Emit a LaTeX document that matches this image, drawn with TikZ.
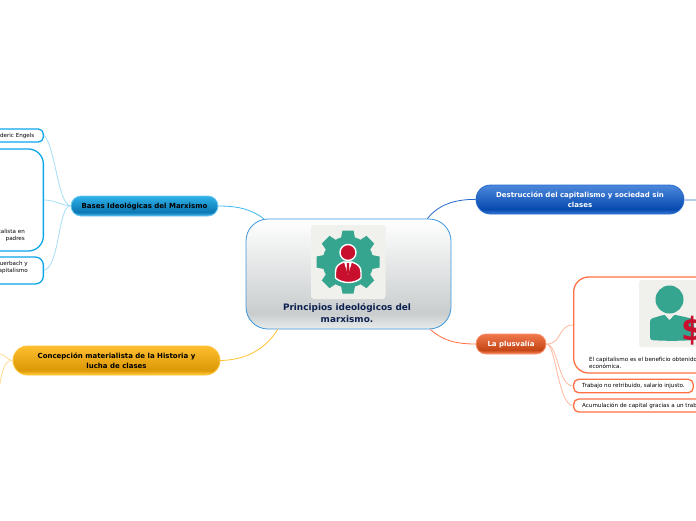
\documentclass[tikz,border=0pt]{standalone}
\usepackage{fontspec}
\setmainfont{DejaVu Sans}
\usepackage{tikz}
\usetikzlibrary{
	calc,											% connector ends on the root
	shapes.misc,									% pill shapes
}

\definecolor{iconteal}{HTML}{36A58F}
\definecolor{iconred}{HTML}{C8102E}
\definecolor{icontile}{HTML}{F0F0EC}
\definecolor{rootline}{HTML}{3C96DC}
\definecolor{rootnavy}{HTML}{0D2150}
\definecolor{rootlow}{HTML}{EAECEC}
\definecolor{rootdark}{HTML}{C9CDCE}
\definecolor{basesline}{HTML}{0EA5E9}
\definecolor{baseslink}{HTML}{A6DDF7}
\definecolor{basestop}{HTML}{2FB2E8}
\definecolor{basesdark}{HTML}{0B78B4}
\definecolor{baseslow}{HTML}{37A8DE}
\definecolor{destrline}{HTML}{2468CC}
\definecolor{destrtop}{HTML}{4C88DC}
\definecolor{destrdark}{HTML}{064AAE}
\definecolor{destrlow}{HTML}{2E6FCC}
\definecolor{plusline}{HTML}{FF7043}
\definecolor{pluslink}{HTML}{FFB8A0}
\definecolor{plustop}{HTML}{F0784C}
\definecolor{plusdark}{HTML}{C44616}
\definecolor{pluslow}{HTML}{F08058}
\definecolor{concline}{HTML}{FFC233}
\definecolor{conclink}{HTML}{FFDC90}
\definecolor{conctop}{HTML}{FDBE2E}
\definecolor{concdark}{HTML}{DC9806}
\definecolor{conclow}{HTML}{FBC232}

\pgfdeclareverticalshading{rootshade}{100bp}{color(0bp)=(rootlow); color(25bp)=(rootlow); color(32bp)=(rootdark); color(75bp)=(white); color(100bp)=(white)}
\pgfdeclareverticalshading{basesshade}{100bp}{color(0bp)=(baseslow); color(27bp)=(baseslow); color(35bp)=(basesdark); color(75bp)=(basestop); color(100bp)=(basestop)}
\pgfdeclareverticalshading{destrshade}{100bp}{color(0bp)=(destrlow); color(27bp)=(destrlow); color(33bp)=(destrdark); color(75bp)=(destrtop); color(100bp)=(destrtop)}
\pgfdeclareverticalshading{plusshade}{100bp}{color(0bp)=(pluslow); color(27bp)=(pluslow); color(35bp)=(plusdark); color(75bp)=(plustop); color(100bp)=(plustop)}
\pgfdeclareverticalshading{concshade}{100bp}{color(0bp)=(conclow); color(27bp)=(conclow); color(33bp)=(concdark); color(75bp)=(conctop); color(100bp)=(conctop)}

\tikzset{
	branch/.style={rounded rectangle, font=\fontsize{7}{10}\selectfont\bfseries, align=center, inner sep=0pt},
	leaf/.style={rectangle, rounded corners=5pt, fill=white, line width=1.3pt, font=\fontsize{5.6}{7}\selectfont, inner ysep=0pt},
	bigleaf/.style={leaf, rounded corners=15pt},
	leaftext/.style={font=\fontsize{5.6}{7}\selectfont, inner sep=0pt},
	link/.style={line width=.8pt},
}

\begin{document}
\begin{tikzpicture}[x=1pt, y=-1pt]
		\path[use as bounding box, clip] (0,0) rectangle (696,520);

		% root and its picture
		\node[rectangle, rounded corners=22pt, draw=rootline, line width=.8pt, shading=rootshade, minimum width=205pt, minimum height=110pt, inner sep=0pt] (root) at (348.5,274) {};
		\fill[icontile, rounded corners=3pt] (311,225) rectangle (385.5,299);
		\fill[iconteal] (348,262) circle (25.5);
		\foreach \a in {0,45,...,315}
			\fill[iconteal, shift={(348,262)}, rotate=\a] (-5.5,-31.5) -- (5.5,-31.5) -- (7,-24) -- (-7,-24) -- cycle;
		\draw[white, fill=iconred, line width=1.4pt] (348,252.5) circle (8);
		\draw[white, fill=iconred, line width=1.4pt] (335.5,278) -- (335.5,272) .. controls (335.5,266) and (339,264) .. (343.5,262) -- (352,262) .. controls (357,264) and (361,266) .. (361,272) -- (361,278) .. controls (355,284) and (342,284) .. (335.5,278) -- cycle;
		\fill[white] (344,262) -- (348,275) -- (352,262) -- cycle;
		\fill[iconred] (347,263) -- (349,263) -- (349.5,272) -- (348,275) -- (346.5,272) -- cycle;
		\node[font=\fontsize{8.9}{12}\selectfont\bfseries, text=rootnavy, align=center, inner sep=0pt] (roottext) at (347,312.5) {Principios ideológicos del\\marxismo.};

		% main branches
		\node[branch, draw=basesline!60, line width=.8pt, shading=basesshade, minimum width=147pt, minimum height=20pt] (bases) at (144.5,206) {Bases Ideológicas del Marxismo};
		\node[branch, draw=destrline, line width=.8pt, shading=destrshade, text=white, minimum width=208pt, minimum height=29pt] (destr) at (580,199.5) {Destrucción del capitalismo y sociedad sin\\clases};
		\node[branch, draw=plusline!80, line width=.8pt, shading=plusshade, text=white, minimum width=70pt, minimum height=20pt] (plus) at (511,344) {La plusvalía};
		\node[branch, draw=concline, line width=.8pt, shading=concshade, minimum width=207pt, minimum height=29pt] (conc) at (116.5,360.5) {Concepción materialista de la Historia y\\lucha de clases};

		% children of Bases
		\node[leaf, draw=basesline, anchor=east, inner xsep=9pt, minimum height=13pt] (engels) at (44,135.5) {Frederic Engels};
		\node[bigleaf, draw=basesline, anchor=east, minimum width=130pt, minimum height=102pt] (ideas) at (44,200) {};
		\node[leaftext, align=right, anchor=east] (ideastext) at (25,235.5) {capitalista en\\padres\hspace{4pt}};
		\node[bigleaf, rounded corners=8pt, draw=basesline, anchor=east, minimum width=100pt, minimum height=27pt] (feuer) at (44,270.5) {};
		\node[leaftext, align=right, anchor=east] (feuertext) at (28,267.5) {Feuerbach y\hspace{4pt}\\capitalismo};

		% children of La plusvalia
		\node[bigleaf, draw=plusline, anchor=west, minimum width=160pt, minimum height=96pt] (benef) at (573,325) {};
		\fill[icontile, rounded corners=3pt] (639,280) rectangle (710,347);
		\fill[iconteal] (669.5,299.5) circle (14);
		\fill[iconteal, rounded corners=2.5pt] (650,319) -- (663,315) -- (676,315) -- (694,319) -- (694,340) .. controls (680,341) and (664,341) .. (650,340) -- cycle;
		\fill[icontile] (665,315) -- (669.5,320) -- (674,315) -- cycle;
		\node[text=iconred, font=\fontsize{32}{32}\selectfont\bfseries, anchor=west, inner sep=0pt] (dollar) at (681,331) {\$};
		\node[leaftext, align=left, anchor=north west] (benefitext) at (589,357) {El capitalismo es el beneficio obtenido\\económica.};
		\node[leaf, draw=plusline, anchor=west, inner xsep=8.5pt, minimum height=13.5pt] (trabajo) at (573,386) {Trabajo no retribuido, salario injusto.};
		\node[leaf, draw=plusline, anchor=west, inner xsep=8.5pt, minimum height=13pt] (acum) at (573,405.5) {Acumulación de capital gracias a un trabajo};

		% free ends at the border
		\coordinate (destrend) at (696,199.5);
		\coordinate (concup) at (0,354);
		\coordinate (concdown) at (0,384);

		% connectors
		\draw[link, basesline!80] (bases.east) .. controls (240,206) and (252,210) .. ($(root.north west)+(18,0)$);
		\draw[link, destrline] (destr.west) .. controls (455,199) and (438,205) .. ($(root.north east)+(-24,0)$);
		\draw[link, plusline] (plus.west) .. controls (455,344) and (442,340) .. ($(root.south east)+(-21,0)$);
		\draw[link, concline] (conc.east) .. controls (245,360) and (265,350) .. ($(root.south west)+(32,0)$);
		\draw[line width=2pt, destrline!35] (destr.east) -- (destrend);
		\draw[link, baseslink] (bases.west) .. controls (58,205) and (55,145) .. (engels.east);
		\draw[link, baseslink] (bases.west) .. controls (60,205) and (55,200) .. (ideas.east);
		\draw[link, baseslink] (bases.west) .. controls (58,205) and (60,266) .. (feuer.east);
		\draw[link, pluslink] (plus.east) .. controls (562,344) and (558,325) .. (benef.west);
		\draw[link, pluslink] (plus.east) .. controls (558,344) and (558,386) .. (trabajo.west);
		\draw[link, pluslink] (plus.east) .. controls (556,344) and (558,405) .. (acum.west);
		\draw[link, conclink] (conc.west) .. controls (7,360) and (5,354) .. (concup);
		\draw[link, conclink] (conc.west) .. controls (5,360) and (2,370) .. (concdown);
	\end{tikzpicture}
\end{document}
